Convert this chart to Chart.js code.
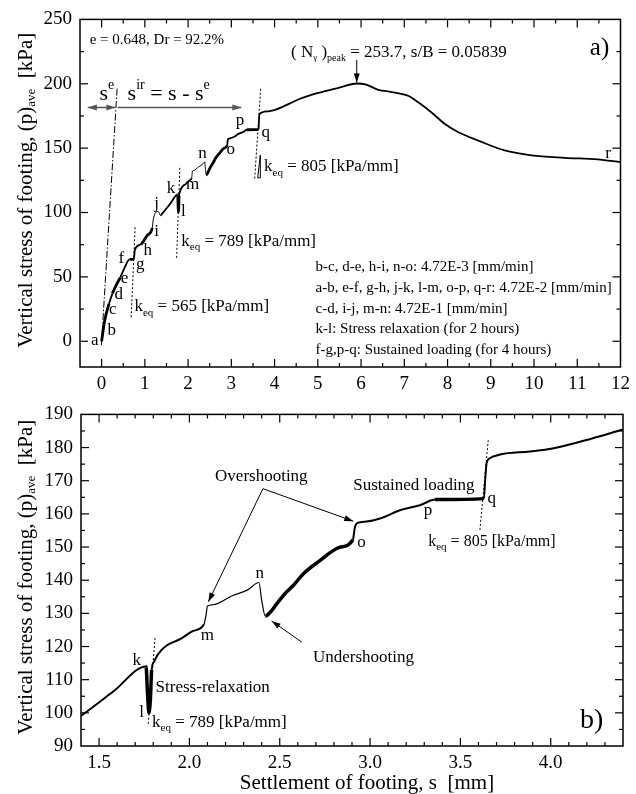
<!DOCTYPE html>
<html>
<head>
<meta charset="utf-8">
<script src="https://cdn.jsdelivr.net/npm/chart.js@4.4.1/dist/chart.umd.min.js"></script>
<style>
  html, body { margin: 0; padding: 0; background: #fff; }
  #wrap { position: relative; width: 636px; height: 794px; }
  #top { position: absolute; left: 0; top: 0; }
  #bot { position: absolute; left: 0; top: 395px; }
</style>
</head>
<body>
<div id="wrap">
  <canvas id="top" width="636" height="395"></canvas>
  <canvas id="bot" width="636" height="399"></canvas>
</div>
<script>
// settlement s [mm] and average footing stress [kPa]
const settlement = [0, 0.07, 0.17, 0.25, 0.33, 0.43, 0.53, 0.645, 0.745, 0.77,
  0.91, 1.05, 1.17, 1.2, 1.31, 1.36, 1.4, 1.58, 1.76, 1.768,
  1.776, 1.784, 1.791, 1.804, 1.828, 1.874, 1.948, 2.021, 2.081, 2.092,
  2.10, 2.13, 2.24, 2.32, 2.385, 2.40, 2.42, 2.45, 2.485, 2.53,
  2.575, 2.63, 2.72, 2.83, 2.905, 2.916, 2.93, 2.98, 3.055, 3.165,
  3.276, 3.36, 3.63, 3.637, 3.645, 3.66, 3.72, 3.885, 4.01, 4.22,
  4.39, 4.56, 5.02, 5.48, 5.9, 6.1, 6.4, 6.71, 7.1, 7.33,
  7.63, 7.94, 8.25, 8.71, 9.32, 9.94, 10.71, 11.47, 12];
const stress = [0, 16, 29, 37, 43, 49.5, 57, 63.6, 63.6, 71.3,
  75.4, 82, 88, 95.6, 100.8, 97.7, 99.1, 106.5, 114, 106,
  100, 104, 112.9, 115.4, 117.8, 120.3, 122.2, 124.7, 126.7, 129.5,
  132.2, 132.6, 135.4, 137, 139.3, 134, 129.2, 130.5, 133, 136,
  138.4, 141.9, 145.8, 149.9, 152.2, 156, 157.3, 157.7, 158.6, 161.1,
  162.6, 164.3, 164.6, 170, 175.3, 176.7, 177.9, 178.8, 179.7, 182.6,
  185.3, 188, 193, 196.9, 200.2, 199.5, 195.3, 193.6, 190.5, 185.4,
  177.7, 168.7, 162.3, 155.9, 148.2, 144.4, 142.5, 141.3, 139.2];

const topXTicks = [0, 1, 2, 3, 4, 5, 6, 7, 8, 9, 10, 11, 12];
const topYTicks = [0, 50, 100, 150, 200, 250];
const botXTicks = [1.5, 2.0, 2.5, 3.0, 3.5, 4.0];
const botYTicks = [90, 100, 110, 120, 130, 140, 150, 160, 170, 180, 190];

const rateNotes = [
  'b-c, d-e, h-i, n-o: 4.72E-3 [mm/min]',
  'a-b, e-f, g-h, j-k, l-m, o-p, q-r: 4.72E-2 [mm/min]',
  'c-d, i-j, m-n: 4.72E-1 [mm/min]',
  'k-l: Stress relaxation (for 2 hours)',
  'f-g,p-q: Sustained loading (for 4 hours)'
];

// loading stages drawn with a thinner / heavier trace (settlement spans)
const fastSpans = [[1.17, 1.36], [2.081, 2.42]];
const slowSpans = [[0, 0.17], [0.25, 0.43], [0.645, 0.745], [0.91, 1.17],
  [1.76, 1.791], [2.42, 2.905], [3.36, 3.63]];

const curvePoints = settlement.map((s, i) => ({ x: s, y: stress[i] }));
const SERIF = '"Liberation Serif", "Times New Roman", serif';

function font(size) {
  return size + 'px ' + SERIF;
}

// draw text made of runs [text, size, dy] side by side
function drawRuns(ctx, parts, x, y, align) {
  let w = 0;
  parts.forEach((p) => { ctx.font = font(p[1]); w += ctx.measureText(p[0]).width; });
  let cx = align === 'center' ? x - w / 2 : x;
  ctx.textAlign = 'left';
  ctx.textBaseline = 'middle';
  parts.forEach((p) => {
    ctx.font = font(p[1]);
    ctx.fillText(p[0], cx, y + (p[2] || 0));
    cx += ctx.measureText(p[0]).width;
  });
}

function line(ctx, a, b) {
  ctx.beginPath();
  ctx.moveTo(a[0], a[1]);
  ctx.lineTo(b[0], b[1]);
  ctx.stroke();
}

function arrowHead(ctx, tip, from, len, half) {
  const ang = Math.atan2(tip[1] - from[1], tip[0] - from[0]);
  const bx = tip[0] - len * Math.cos(ang), by = tip[1] - len * Math.sin(ang);
  ctx.beginPath();
  ctx.moveTo(tip[0], tip[1]);
  ctx.lineTo(bx + half * Math.sin(ang), by - half * Math.cos(ang));
  ctx.lineTo(bx - half * Math.sin(ang), by + half * Math.cos(ang));
  ctx.closePath();
  ctx.fill();
}

function arrow(ctx, a, b, both) {
  line(ctx, a, b);
  arrowHead(ctx, b, a, 9, 3);
  if (both) arrowHead(ctx, a, b, 9, 3);
}

function keq(ctx, value, size, pos) {
  drawRuns(ctx, [['k', size], ['eq', 11, 6], [' = ' + value + ' [kPa/mm]', size]], pos[0], pos[1], 'left');
}

function letters(ctx, P, list) {
  list.forEach((l) => drawRuns(ctx, [[l[0], 17]], ...P(l[1], l[2]), 'center'));
}

function annotateTop(ctx, P) {
  ctx.fillStyle = '#000';
  ctx.strokeStyle = '#000';
  drawRuns(ctx, [['e = 0.648, Dr = 92.2%', 15]], ...P(-0.276, 233.8), 'left');
  drawRuns(ctx, [['( N', 17], ['\u03b3', 9, 6], [' )', 17], ['peak', 10, 6],
    [' = 253.7, s/B = 0.05839', 17]], ...P(4.38, 224.6), 'left');
  ctx.lineWidth = 1;
  arrow(ctx, P(5.9, 218.5), P(5.9, 201));
  drawRuns(ctx, [['a)', 25]], ...P(11.29, 227.7), 'left');

  // elastic line and k_eq lines
  ctx.lineWidth = 1;
  ctx.setLineDash([7, 2, 1.5, 2]);
  line(ctx, P(-0.005, -3), P(0.36, 197));
  ctx.setLineDash([2, 2]);
  line(ctx, P(0.683, 18.7), P(0.775, 89));
  line(ctx, P(1.735, 64.8), P(1.81, 136));
  line(ctx, P(3.54, 126.4), P(3.68, 196.9));
  ctx.setLineDash([]);
  ctx.beginPath();
  const t1 = P(3.67, 144.6), t2 = P(3.67, 126.9), t3 = P(3.61, 126.9);
  ctx.moveTo(...t1); ctx.lineTo(...t2); ctx.lineTo(...t3); ctx.closePath();
  ctx.stroke();

  // s^e / s^ir arrows
  ctx.strokeStyle = '#555';
  ctx.fillStyle = '#555';
  ctx.lineWidth = 1.5;
  arrow(ctx, P(-0.32, 181.5), P(0.32, 181.5), true);
  arrow(ctx, P(0.37, 181.5), P(3.23, 181.5));
  ctx.fillStyle = '#000';
  drawRuns(ctx, [['s', 22], ['e', 14, -9]], ...P(-0.05, 192), 'left');
  drawRuns(ctx, [['s', 22], ['ir', 14, -9], [' = s - s', 22], ['e', 14, -9]], ...P(0.6, 192), 'left');

  keq(ctx, 565, 17, P(0.76, 26.9));
  keq(ctx, 789, 17, P(1.843, 77.7));
  keq(ctx, 805, 17, P(3.756, 135.4));

  letters(ctx, P, [
    ['a', -0.16, 0.2], ['b', 0.237, 8.5], ['c', 0.26, 24.4], ['d', 0.399, 36.2],
    ['e', 0.53, 49], ['f', 0.454, 64.4], ['g', 0.892, 59.8], ['h', 1.067, 70.5],
    ['i', 1.274, 85.4], ['j', 1.274, 107.2], ['k', 1.606, 118.7], ['l', 1.889, 100.8],
    ['m', 2.104, 121.8], ['n', 2.334, 145.6], ['o', 2.988, 149], ['p', 3.203, 171.3],
    ['q', 3.795, 161.8], ['r', 11.71, 145.6]
  ]);

  const noteRows = [57.7, 41.3, 25.2, 9.2, -6.9];
  rateNotes.forEach((t, i) => drawRuns(ctx, [[t, 15]], ...P(4.947, noteRows[i]), 'left'));
}

function annotateBot(ctx, P) {
  ctx.fillStyle = '#000';
  ctx.strokeStyle = '#000';
  ctx.lineWidth = 1;
  drawRuns(ctx, [['Overshooting', 17]], ...P(2.142, 171.4), 'left');
  arrow(ctx, P(2.407, 167.6), P(2.105, 133.5));
  arrow(ctx, P(2.407, 167.6), P(2.907, 157.8));
  drawRuns(ctx, [['Undershooting', 17]], ...P(2.684, 116.8), 'left');
  arrow(ctx, P(2.623, 121.3), P(2.455, 127.7));
  drawRuns(ctx, [['Sustained loading', 17]], ...P(2.907, 168.5), 'left');
  drawRuns(ctx, [['Stress-relaxation', 17]], ...P(1.813, 107.5), 'left');

  ctx.setLineDash([2, 2]);
  line(ctx, P(3.608, 155.2), P(3.654, 182.2));
  line(ctx, P(1.772, 96.7), P(1.81, 122.7));
  ctx.setLineDash([]);

  keq(ctx, 805, 16, P(3.322, 151.7));
  keq(ctx, 789, 17, P(1.793, 97.2));

  letters(ctx, P, [
    ['k', 1.708, 115.9], ['l', 1.736, 100.1], ['m', 2.099, 123.2], ['n', 2.39, 141.9],
    ['o', 2.953, 151.3], ['p', 3.32, 161.1], ['q', 3.673, 164.5]
  ]);
  drawRuns(ctx, [['b)', 28]], ...P(4.162, 97.7), 'left');
}

function inSpans(spans, a, b) {
  return spans.some((sp) => a >= sp[0] - 1e-9 && b <= sp[1] + 1e-9);
}

function framePlugin(o) {
  return {
    id: 'frame',
    afterDraw(chart) {
      const ctx = chart.ctx;
      const a = chart.chartArea;
      const sx = chart.scales.x, sy = chart.scales.y;
      const P = (s, p) => [sx.getPixelForValue(s), sy.getPixelForValue(p)];
      ctx.save();
      ctx.strokeStyle = '#000';
      ctx.lineWidth = 1.5;
      ctx.strokeRect(a.left, a.top, a.right - a.left, a.bottom - a.top);

      // inward ticks on all four sides
      ctx.lineWidth = 1.2;
      const tickX = (v, len) => {
        const x = sx.getPixelForValue(v);
        line(ctx, [x, a.bottom], [x, a.bottom - len]);
        line(ctx, [x, a.top], [x, a.top + len]);
      };
      const tickY = (v, len) => {
        const y = sy.getPixelForValue(v);
        line(ctx, [a.left, y], [a.left + len, y]);
        line(ctx, [a.right, y], [a.right - len, y]);
      };
      const isMajor = (list, v) => list.some((m) => Math.abs(m - v) < 1e-6);
      for (let v = o.xMinorStart; v <= o.xMax + 1e-6; v += o.xMinor) {
        const r = Math.round(v * 1000) / 1000;
        if (r > o.xMin + 1e-6 && r < o.xMax - 1e-6) tickX(r, isMajor(o.xTicks, r) ? 8 : 4);
      }
      for (let v = o.yMinorStart; v <= o.yMax + 1e-6; v += o.yMinor) {
        const r = Math.round(v * 1000) / 1000;
        if (r > o.yMin + 1e-6 && r < o.yMax - 1e-6) tickY(r, isMajor(o.yTicks, r) ? 8 : 4);
      }

      // y axis title
      ctx.fillStyle = '#000';
      ctx.save();
      ctx.translate(a.left - o.yTitleGap, (a.top + a.bottom) / 2 - 3);
      ctx.rotate(-Math.PI / 2);
      drawRuns(ctx, [['Vertical stress of footing, (p)', 21], ['ave', 13, 6], ['  [kPa]', 21]], 0, 0, 'center');
      ctx.restore();

      if (o.xTitle) {
        drawRuns(ctx, [[o.xTitle, 21]], (a.left + a.right) / 2 + 15, a.bottom + 37, 'center');
      }

      ctx.save();
      ctx.beginPath();
      ctx.rect(a.left, a.top, a.right - a.left, a.bottom - a.top);
      ctx.clip();
      o.annotate(ctx, P);
      ctx.restore();
      ctx.restore();
    }
  };
}

function buildChart(canvasId, o) {
  const tickFont = { family: SERIF, size: 19 };
  return new Chart(document.getElementById(canvasId), {
    type: 'line',
    data: {
      datasets: [{
        data: curvePoints,
        borderColor: '#000',
        borderWidth: o.lineWidth,
        pointRadius: 0,
        cubicInterpolationMode: 'monotone',
        fill: false,
        segment: {
          borderWidth: (ctx) => {
            const s0 = ctx.p0.parsed.x, s1 = ctx.p1.parsed.x;
            if (inSpans(fastSpans, s0, s1)) return o.thinWidth;
            if (inSpans(slowSpans, s0, s1)) return o.thickWidth;
            return o.lineWidth;
          }
        }
      }]
    },
    options: {
      responsive: false,
      animation: false,
      devicePixelRatio: 1,
      layout: { padding: o.padding },
      plugins: { legend: { display: false }, tooltip: { enabled: false } },
      scales: {
        x: {
          type: 'linear',
          min: o.xMin,
          max: o.xMax,
          afterBuildTicks: (s) => { s.ticks = o.xTicks.map((v) => ({ value: v })); },
          afterFit: (s) => { s.height = o.xAxisH; },
          grid: { display: false, drawTicks: false },
          border: { display: false },
          ticks: {
            autoSkip: false, maxRotation: 0, padding: 6, color: '#000', font: tickFont,
            callback: (v) => o.xFmt(v)
          }
        },
        y: {
          type: 'linear',
          min: o.yMin,
          max: o.yMax,
          afterBuildTicks: (s) => { s.ticks = o.yTicks.map((v) => ({ value: v })); },
          afterFit: (s) => { s.width = o.yAxisW; },
          grid: { display: false, drawTicks: false },
          border: { display: false },
          ticks: {
            autoSkip: false, padding: 8, color: '#000', font: tickFont,
            callback: (v) => String(v)
          }
        }
      }
    },
    plugins: [framePlugin(o)]
  });
}

buildChart('top', {
  xMin: -0.5, xMax: 12, yMin: -20, yMax: 250,
  xTicks: topXTicks, yTicks: topYTicks,
  xMinor: 0.5, xMinorStart: -0.5, yMinor: 25, yMinorStart: 0,
  xFmt: (v) => String(v),
  padding: { top: 16, right: 13, left: 0, bottom: 0 },
  yAxisW: 80, xAxisH: 28, yTitleGap: 54,
  lineWidth: 1.8, thinWidth: 1, thickWidth: 2.8,
  annotate: annotateTop
});

buildChart('bot', {
  xMin: 1.4, xMax: 4.4, yMin: 90, yMax: 190,
  xTicks: botXTicks, yTicks: botYTicks,
  xMinor: 0.1, xMinorStart: 1.4, yMinor: 5, yMinorStart: 90,
  xFmt: (v) => v.toFixed(1),
  padding: { top: 12, right: 13, left: 0, bottom: 0 },
  yAxisW: 81, xAxisH: 48, yTitleGap: 55,
  lineWidth: 2, thinWidth: 1.2, thickWidth: 3.5,
  xTitle: 'Settlement of footing, s  [mm]',
  annotate: annotateBot
});
</script>
</body>
</html>
